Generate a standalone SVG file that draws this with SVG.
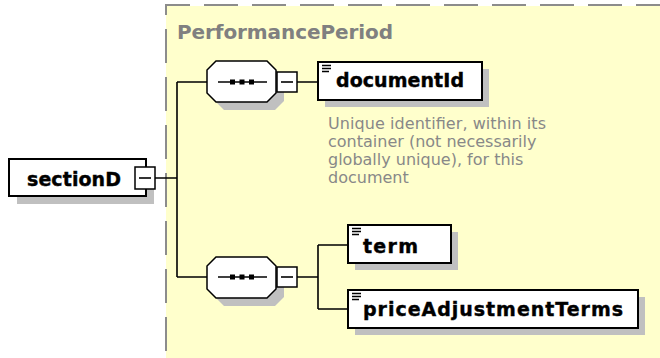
<svg xmlns="http://www.w3.org/2000/svg" width="660" height="358" viewBox="0 0 660 358">
<defs>
<style>
.shadow{fill:#c0c0c0;stroke:none}
.box{fill:#ffffff;stroke:#000000;stroke-width:2}
.oct{fill:#ffffff;stroke:#000000;stroke-width:1.5}
.mini{fill:#ffffff;stroke:#000000;stroke-width:1.5}
.line{fill:none;stroke:#000000;stroke-width:1.6}
.name{font-family:"DejaVu Sans","Liberation Sans",sans-serif;font-weight:bold;font-size:19px;fill:#000000;stroke:#000000;stroke-width:0.4}
.title{font-family:"DejaVu Sans","Liberation Sans",sans-serif;font-weight:bold;font-size:20px;fill:#808080}
.doc{font-family:"DejaVu Sans","Liberation Sans",sans-serif;font-size:16px;fill:#888888}
.dash{fill:none;stroke:#8c8c8c;stroke-width:2;stroke-dasharray:34 14}
.icon{stroke:#000000;stroke-width:1.3}
</style>
</defs>
<rect x="0" y="0" width="660" height="358" fill="#ffffff"/>

<g id="PerformancePeriod">
<rect x="166" y="6" width="494" height="352" fill="#ffffcc"/>
<line class="dash" x1="165" y1="5" x2="660" y2="5" style="stroke-dashoffset:9"/>
<line class="dash" x1="166" y1="5" x2="166" y2="353" style="stroke-dashoffset:24"/>
<text class="title" x="177" y="39" textLength="216">PerformancePeriod</text>
</g>

<g id="connectors">
<path class="line" d="M155,178 H177 M177,82 V277 M177,82 H207 M177,277 H207 M297,82 H318 M297,277 H318 M318,245 V309 M318,245 H348 M318,309 H348"/>
</g>

<g id="sectionD">
<rect class="shadow" x="17" y="167" width="137" height="37"/>
<rect class="box" x="9" y="159" width="137" height="37"/>
<text class="name" x="27" y="186" textLength="94">sectionD</text>
<rect class="mini" x="135" y="167" width="20" height="22"/>
<line class="line" x1="139" y1="178" x2="151" y2="178"/>
</g>

<g id="sequence1">
<polygon class="shadow" points="224,69 275,69 284,78 284,101 275,110 224,110 215,101 215,78"/>
<polygon class="oct" points="216,61 267,61 276,70 276,93 267,102 216,102 207,93 207,70"/>
<line class="line" x1="218" y1="82" x2="267" y2="82"/>
<rect x="230" y="79.5" width="5" height="5" fill="#000000"/>
<rect x="239.5" y="79.5" width="5" height="5" fill="#000000"/>
<rect x="249" y="79.5" width="5" height="5" fill="#000000"/>
<rect class="mini" x="277" y="72" width="20" height="20"/>
<line class="line" x1="281" y1="82" x2="293" y2="82"/>
</g>

<g id="documentId">
<rect class="shadow" x="325" y="69" width="164" height="38"/>
<rect class="box" x="318" y="62" width="164" height="38"/>
<path class="icon" d="M322,65.5 H331 M322,68.5 H331 M322,71.5 H329"/>
<text class="name" x="336" y="87" textLength="128">documentId</text>
<text class="doc" x="328" y="128.5" textLength="218">Unique identifier, within its</text>
<text class="doc" x="328" y="146.8">container (not necessarily</text>
<text class="doc" x="328" y="165.1">globally unique), for this</text>
<text class="doc" x="328" y="183.4">document</text>
</g>

<g id="sequence2">
<polygon class="shadow" points="224,265 275,265 284,274 284,297 275,306 224,306 215,297 215,274"/>
<polygon class="oct" points="216,257 267,257 276,266 276,289 267,298 216,298 207,289 207,266"/>
<line class="line" x1="218" y1="277" x2="267" y2="277"/>
<rect x="230" y="274.5" width="5" height="5" fill="#000000"/>
<rect x="239.5" y="274.5" width="5" height="5" fill="#000000"/>
<rect x="249" y="274.5" width="5" height="5" fill="#000000"/>
<rect class="mini" x="277" y="267" width="20" height="20"/>
<line class="line" x1="281" y1="277" x2="293" y2="277"/>
</g>

<g id="term">
<rect class="shadow" x="355" y="232" width="103" height="38"/>
<rect class="box" x="348" y="225" width="103" height="38"/>
<path class="icon" d="M352,228.5 H361 M352,231.5 H361 M352,234.5 H359"/>
<text class="name" x="363" y="253" textLength="55">term</text>
</g>

<g id="priceAdjustmentTerms">
<rect class="shadow" x="355" y="297" width="290" height="38"/>
<rect class="box" x="348" y="290" width="290" height="38"/>
<path class="icon" d="M352,293.5 H361 M352,296.5 H361 M352,299.5 H359"/>
<text class="name" x="363" y="316" textLength="260">priceAdjustmentTerms</text>
</g>
</svg>
